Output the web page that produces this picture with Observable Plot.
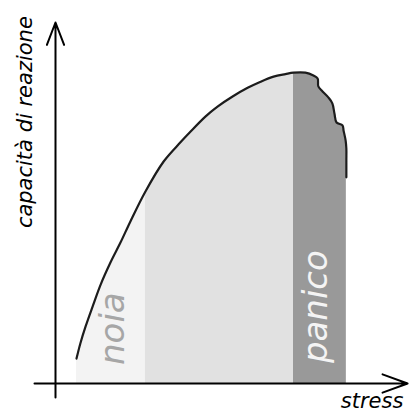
<!DOCTYPE html>
<html>
<head>
<meta charset="utf-8">
<script src="https://cdn.jsdelivr.net/npm/d3@7"></script>
<script src="https://cdn.jsdelivr.net/npm/@observablehq/plot@0.6"></script>
<style>
  html, body { margin: 0; padding: 0; background: #fff; }
  svg { display: block; }
</style>
</head>
<body>
<div id="chart"></div>
<script>
// stress (x) and capacità di reazione (y), arbitrary units 0–100
const stress = [6.0, 7.1, 8.6, 10.6, 12.9, 15.7, 18.6, 21.4, 25.7, 30.9, 35.7, 38.6, 42.9, 46.3, 50.6, 54.9, 58.6, 62.3, 65.7, 68.0, 71.4, 73.7, 74.9, 75.1, 76.3, 78.0, 79.1, 79.7, 80.3, 82.0, 82.3, 82.9, 83.1, 83.1, 83.1];
const capacity = [6.9, 11.1, 15.8, 21.3, 27.4, 33.5, 39.1, 44.9, 53.2, 61.5, 66.8, 69.8, 74.0, 76.7, 79.5, 81.9, 83.6, 85.0, 85.7, 86.1, 86.1, 85.3, 84.5, 82.3, 80.9, 79.2, 77.6, 74.8, 72.3, 71.5, 70.1, 67.3, 65.1, 61.8, 57.1];

// zones: name, start, end, fill
const zoneNames = ["noia", "normale", "panico"];
const zoneStart = [6.0, 25.7, 68.0];
const zoneEnd = [25.7, 68.0, 83.1];
const zoneFill = ["#f3f3f3", "#e1e1e1", "#999999"];

const curve = stress.map((s, i) => ({s, c: capacity[i]}));
const zoneData = zoneNames.flatMap((z, k) =>
  curve.filter(d => d.s >= zoneStart[k] && d.s <= zoneEnd[k]).map(d => ({...d, zone: z}))
);

const font = "DejaVu Sans, Verdana, sans-serif";

const chart = Plot.plot({
  width: 417,
  height: 412,
  marginTop: 0, marginRight: 0, marginBottom: 0, marginLeft: 0,
  x: {domain: [0, 100], range: [55, 405], axis: null},
  y: {domain: [0, 100], range: [383, 22], axis: null},
  color: {domain: zoneNames, range: zoneFill},
  style: {fontFamily: font, background: "#fff"},
  marks: [
    Plot.areaY(zoneData, {x: "s", y1: 0, y2: "c", z: "zone", fill: "zone", curve: "catmull-rom"}),
    Plot.line(curve, {x: "s", y: "c", stroke: "#1c1c1c", strokeWidth: 2.2, curve: "catmull-rom"}),
    Plot.arrow([0], {x1: 0, x2: 0, y1: -3.9, y2: 100, stroke: "#000", strokeWidth: 2, headLength: 18, headAngle: 42}),
    Plot.arrow([0], {x1: -6, x2: 100.6, y1: 0, y2: 0, stroke: "#000", strokeWidth: 2, headLength: 20, headAngle: 40}),
    Plot.text(["capacità di reazione"], {x: -6.6, y: 72.4, text: d => d, rotate: -90, textAnchor: "middle", lineAnchor: "bottom", fontSize: 21, fontStyle: "italic", fontFamily: font, fill: "#000"}),
    Plot.text(["stress"], {x: 99.4, y: -6.9, text: d => d, textAnchor: "end", lineAnchor: "bottom", fontSize: 21, fontStyle: "italic", fontFamily: font, fill: "#000"}),
    Plot.text(["noia"], {x: 19.7, y: 15.2, text: d => d, rotate: -90, textAnchor: "middle", lineAnchor: "bottom", fontSize: 34, fontStyle: "italic", fontWeight: 200, fontFamily: font, fill: "#a6a6a6"}),
    Plot.text(["panico"], {x: 77.7, y: 21.3, text: d => d, rotate: -90, textAnchor: "middle", lineAnchor: "bottom", fontSize: 34, fontStyle: "italic", fontWeight: 200, fontFamily: font, fill: "#f4f4f4"})
  ]
});
document.getElementById("chart").appendChild(chart);
</script>
</body>
</html>
